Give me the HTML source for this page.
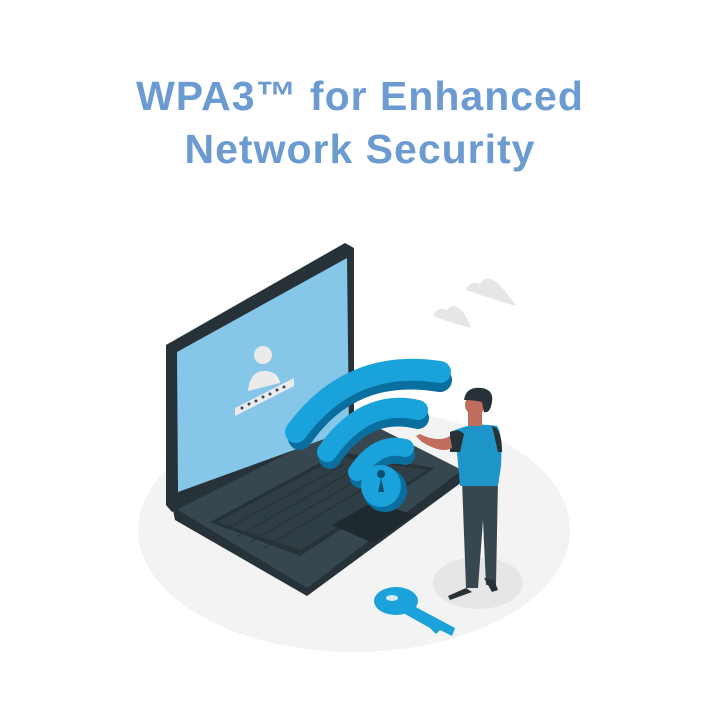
<!DOCTYPE html>
<html><head><style>
html,body{margin:0;padding:0;background:#fff;}
.t{position:absolute;left:0;width:720px;text-align:center;font-family:"Liberation Sans",sans-serif;font-weight:bold;color:#6b9bd0;font-size:41px;letter-spacing:1px;}
</style></head><body>
<div class="t" style="top:73px">WPA3™ for Enhanced</div>
<div class="t" style="top:126px">Network Security</div>
<svg width="720" height="720" style="position:absolute;left:0;top:0">
<ellipse cx="354" cy="530" rx="216" ry="122" fill="#f3f3f3"/>
<path d="M433 316 q4-10 14-6 q6-8 14 0 q6 6 10 18 q-16-4-38-12z" fill="#e6e6e6"/>
<path d="M466 290 q4-10 14-6 q6-10 16-2 q8 6 20 24 q-22-6-50-16z" fill="#e6e6e6"/>
<polygon points="173,510 353,418 462,472 462,482 307,596 175,520" fill="#263238"/>
<polygon points="173,507 353,415 462,470 307,588" fill="#37474f"/>
<polygon points="210,522 340,452 435,468 300,556" fill="#263238"/>
<polygon points="217,522 338,457 428,470 301,550" fill="#2f3d44"/>
<g stroke="#263238" stroke-width="1.2">
<line x1="226" y1="529" x2="345" y2="464"/><line x1="238" y1="536" x2="358" y2="468"/><line x1="250" y1="542" x2="372" y2="472"/><line x1="264" y1="548" x2="386" y2="475"/>
</g>
<polygon points="332,525 373,502 415,515 373,543" fill="#1e2a30"/>
<polygon points="166,345 345,243 354,248 354,420 172,512 166,505" fill="#263238"/>
<polygon points="177,352 347,258 349,430 178,492" fill="#86c6e8"/>
<circle cx="263" cy="355" r="9" fill="#ebebeb"/>
<path d="M248 391 q2-20 16-20 q14 0 16 12 z" fill="#ebebeb"/>
<polygon points="235,408 294,378 294,386 235,416" fill="#ebebeb"/>
<g fill="#37474f"><circle cx="242" cy="408" r="1.5"/><circle cx="249" cy="404" r="1.5"/><circle cx="256" cy="401" r="1.5"/><circle cx="263" cy="397" r="1.5"/><circle cx="270" cy="394" r="1.5"/><circle cx="277" cy="390" r="1.5"/><circle cx="284" cy="387" r="1.5"/></g>
<g fill="none" stroke-linecap="round">
<path d="M300 438 Q350 365 440 380" stroke="#0a6f9e" stroke-width="24"/>
<path d="M296 432 Q350 358 440 372" stroke="#1aa2db" stroke-width="22"/>
<path d="M330 458 Q365 405 418 418" stroke="#0a6f9e" stroke-width="22"/>
<path d="M327 452 Q365 398 418 410" stroke="#1aa2db" stroke-width="20"/>
<path d="M360 478 Q378 448 405 455" stroke="#0a6f9e" stroke-width="20"/>
<path d="M357 472 Q378 441 405 448" stroke="#1aa2db" stroke-width="18"/>
</g>
<ellipse cx="385" cy="490" rx="22" ry="22" fill="#0a6f9e"/>
<ellipse cx="381" cy="486" rx="20" ry="21" fill="#1aa2db"/>
<path d="M381 478 a4 4 0 1 1 0.1 0 l3 14 h-6z" fill="#0d4e6e"/>
<ellipse cx="396" cy="601" rx="22" ry="14" fill="#1aa2db"/>
<ellipse cx="392" cy="598" rx="6" ry="3" fill="#fff" opacity="0.8"/>
<polygon points="410,604 455,628 452,636 440,630 436,634 430,628 405,614" fill="#1aa2db"/>
<ellipse cx="478" cy="583" rx="45" ry="26" fill="#e6e6e6"/>
<path d="M462 480 L498 480 L496 585 L486 585 L483 520 L478 588 L466 588 z" fill="#37474f"/>
<path d="M448 596 l18 -8 l6 4 l-22 8z" fill="#263238"/>
<path d="M484 578 l10 2 l4 10 l-6 2z" fill="#263238"/>
<path d="M455 430 q20-8 42-4 q6 8 4 40 l-3 20 h-38z" fill="#1e95c9"/>
<path d="M450 432 q8-4 14 2 l-4 18 l-10 0z" fill="#263238"/>
<path d="M492 426 q10 2 10 26 l-4 0z" fill="#263238"/>
<path d="M452 448 q-10 6 -30 -6 l-6 -6 l4 -2 l4 2 q16 6 26 0z" fill="#c06d5e"/>
<rect x="468" y="408" width="14" height="18" fill="#c06d5e"/>
<circle cx="475" cy="405" r="10" fill="#c06d5e"/>
<path d="M464 400 q2-14 18-12 q12 2 10 14 q-2 12 -8 10 l-2-10 q-8-2-18-2z" fill="#263238"/>
</svg>
</body></html>
